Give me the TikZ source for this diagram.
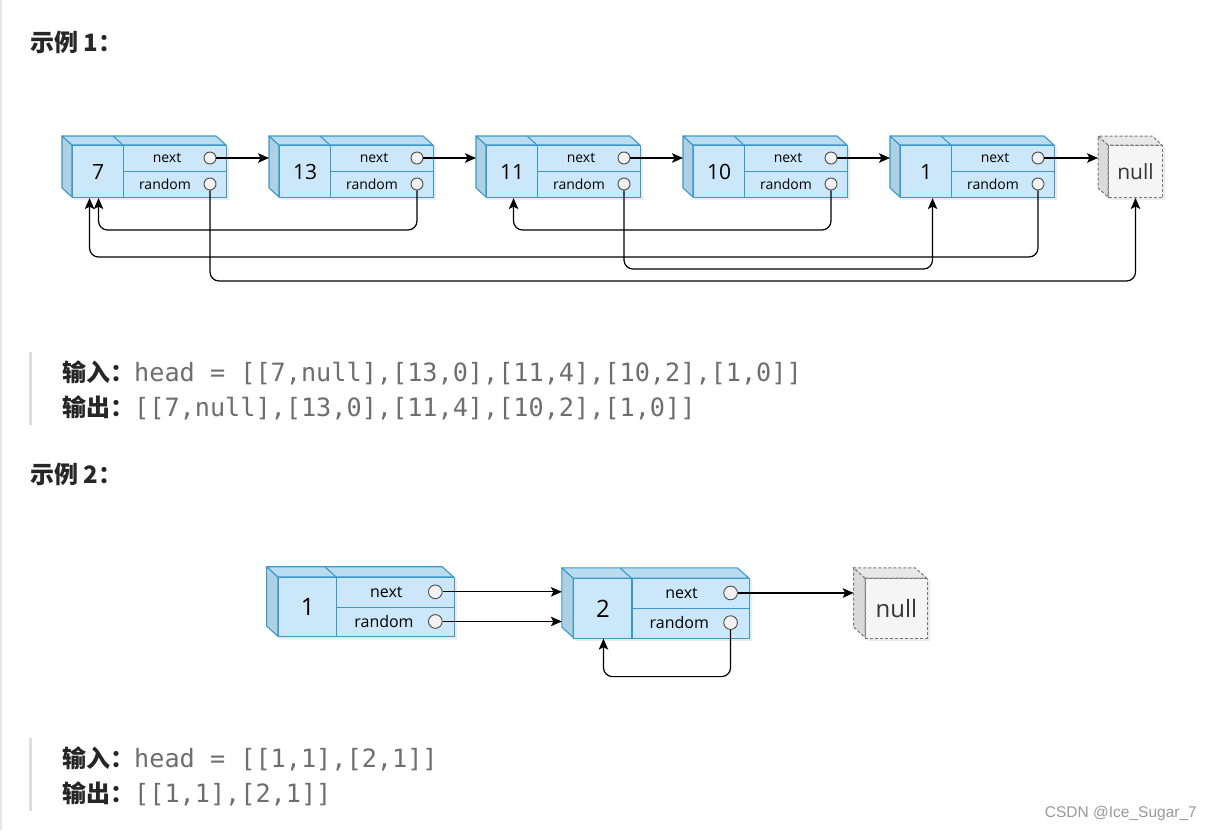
\documentclass[tikz,border=0pt]{standalone}
\usepackage{fontspec}
\setmainfont{Open Sans}
\newfontfamily\cjk{Noto Sans CJK SC}
\newfontfamily\codefont{DejaVu Sans Mono}
\newfontfamily\markfont{Liberation Sans}
\usetikzlibrary{arrows.meta}

\definecolor{cellfill}{HTML}{CCE7F9}
\definecolor{celltop}{HTML}{BADCF1}
\definecolor{cellside}{HTML}{ADD0E5}
\definecolor{cellline}{HTML}{3C98CA}
\definecolor{nullfill}{HTML}{F5F5F5}
\definecolor{nulltop}{HTML}{E8E8E8}
\definecolor{nullside}{HTML}{DADADA}
\definecolor{nullline}{HTML}{777777}
\definecolor{portfill}{HTML}{F2F2F2}
\definecolor{codegray}{HTML}{6E6E6E}
\definecolor{quotebar}{HTML}{DDDDDD}

\tikzset{
  cell/.style={draw=cellline, fill=cellfill, line width=1.1pt, inner sep=0pt, anchor=north west},
  valcell/.style={cell, minimum width=51pt, minimum height=52pt, font=\fontsize{21}{21}\selectfont},
  fieldcell/.style={cell, minimum width=103pt, minimum height=26pt},
  fieldtext/.style={inner sep=0pt, font=\fontsize{14}{14}\selectfont},
  port/.style={circle, draw=black!70, fill=portfill, line width=0.9pt, minimum size=12pt, inner sep=0pt},
  topface/.style={draw=cellline, fill=celltop, line width=1.1pt, line join=round},
  sideface/.style={draw=cellline, fill=cellside, line width=1.1pt, line join=round},
  boxshadow/.style={fill=black, opacity=0.08},
  nullfront/.style={draw=nullline, fill=nullfill, dash pattern=on 3pt off 2pt, line width=1pt,
    inner sep=0pt, anchor=north west, minimum width=54pt, minimum height=52pt, font=\fontsize{21}{21}\selectfont, text=black!80},
  nulltop/.style={draw=nullline, fill=nulltop, dash pattern=on 3pt off 2pt, line width=1pt},
  nullside/.style={draw=nullline, fill=nullside, dash pattern=on 3pt off 2pt, line width=1pt},
  link/.style={draw=black, line width=1.2pt, rounded corners=9pt, -{Stealth[length=11pt,width=9.5pt,inset=2.5pt]}},
  heading/.style={inner sep=0pt, anchor=base west, font=\cjk\bfseries\fontsize{24}{24}\selectfont, text=black!85},
  code/.style={inner sep=0pt, anchor=base west, font=\codefont\fontsize{25.2}{25.2}\selectfont, text=codegray},
}

% one list cell drawn as a cube: name, x, y (top left of front), value
\newcommand{\listcell}[4]{%
  \fill[boxshadow] (#2-7,#3-6) -- (#2+147,#3-6) -- (#2+157,#3+3) -- (#2+157,#3+55) -- (#2+3,#3+55) -- (#2-7,#3+46) -- cycle;
  \filldraw[sideface] (#2,#3) -- (#2-10,#3-9) -- (#2-10,#3+43) -- (#2,#3+52) -- cycle;
  \filldraw[topface] (#2,#3) -- (#2-10,#3-9) -- (#2+144,#3-9) -- (#2+154,#3) -- cycle;
  \draw[cellline, line width=1.1pt] (#2+51,#3) -- (#2+41,#3-9);
  \node[valcell] (#1) at (#2,#3) {#4};
  \node[fieldcell] (#1-n) at (#2+51,#3) {};
  \node[fieldcell] (#1-r) at (#2+51,#3+26) {};
  \node[fieldtext] (#1-nt) at (#2+95,#3+13) {next};
  \node[fieldtext] (#1-rt) at (#2+93,#3+39) {random};
  \node[port] (#1-next) at (#2+138,#3+13) {};
  \node[port] (#1-rand) at (#2+138,#3+39) {};
  \coordinate (#1-side) at (#2-10,#3+26);
}

% the null cube: name, x, y
\newcommand{\nullcell}[3]{%
  \fill[boxshadow] (#2-7,#3-6) -- (#2+47,#3-6) -- (#2+57,#3+3) -- (#2+57,#3+55) -- (#2+3,#3+55) -- (#2-7,#3+46) -- cycle;
  \filldraw[nullside] (#2,#3) -- (#2-10,#3-9) -- (#2-10,#3+43) -- (#2,#3+52) -- cycle;
  \filldraw[nulltop] (#2,#3) -- (#2-10,#3-9) -- (#2+44,#3-9) -- (#2+54,#3) -- cycle;
  \node[nullfront] (#1) at (#2,#3) {null};
  \coordinate (#1-side) at (#2-10,#3+26);
}

\begin{document}
\begin{tikzpicture}[x=1pt, y=-1pt]
  \useasboundingbox[fill=white] (0,0) rectangle (1212,830);
  \draw[black!10, line width=2pt] (1,0) -- (1,830);

  % example 1
  \node[heading] (title1) at (30,51) {示例 1：};

  \listcell{n7}{72}{145}{7}
  \listcell{n13}{279}{145}{13}
  \listcell{n11}{486}{145}{11}
  \listcell{n10}{693}{145}{10}
  \listcell{n1}{900}{145}{1}
  \nullcell{nul1}{1108}{145}

  % next pointers
  \draw[link] (n7-next) -- (n7-next -| n13-side);
  \draw[link] (n13-next) -- (n13-next -| n11-side);
  \draw[link] (n11-next) -- (n11-next -| n10-side);
  \draw[link] (n10-next) -- (n10-next -| n1-side);
  \draw[link] (n1-next) -- (n1-next -| nul1-side);

  % random pointers
  \draw[link] (n13-rand) -- ++(0,46) -| ([xshift=0.5pt]n7.south);
  \draw[link] (n10-rand) -- ++(0,46) -| ([xshift=1.5pt]n11.south);
  \draw[link] (n1-rand) -- ++(0,73) -| ([xshift=-8.5pt]n7.south);
  \draw[link] (n11-rand) -- ++(0,85) -| ([xshift=6.5pt]n1.south);
  \draw[link] (n7-rand) -- ++(0,97) -| (nul1.south);

  \fill[quotebar] (29,352) rectangle (32,425);
  \node[heading] (in1) at (62,381) {输入：};
  \node[code] (in1code) at (134,381) {head = [[7,null],[13,0],[11,4],[10,2],[1,0]]};
  \node[heading] (out1) at (62,416) {输出：};
  \node[code] (out1code) at (134,416) {[[7,null],[13,0],[11,4],[10,2],[1,0]]};

  % example 2
  \node[heading] (title2) at (30,483) {示例 2：};

  \begin{scope}[shift={(278,577)}, scale=1.14, transform shape]
    \listcell{m1}{0}{0}{1}
    \listcell{m2}{259}{1}{2}
    \nullcell{nul2}{515}{1}
  \end{scope}

  \draw[link] (m1-next) -- (m1-next -| m2-side);
  \draw[link] (m1-rand) -- (m1-rand -| m2-side);
  \draw[link] (m2-next) -- (m2-next -| nul2-side);
  \draw[link] (m2-rand) -- ++(0,54) -| ([xshift=0.5pt]m2.south);

  \fill[quotebar] (29,738) rectangle (32,811);
  \node[heading] (in2) at (62,767) {输入：};
  \node[code] (in2code) at (134,767) {head = [[1,1],[2,1]]};
  \node[heading] (out2) at (62,802) {输出：};
  \node[code] (out2code) at (134,802) {[[1,1],[2,1]]};

  \node[inner sep=0pt, anchor=base east, text=black!40, font=\markfont\fontsize{15.5}{15.5}\selectfont] (mark) at (1197,817) {CSDN @Ice\_Sugar\_7};
\end{tikzpicture}
\end{document}
